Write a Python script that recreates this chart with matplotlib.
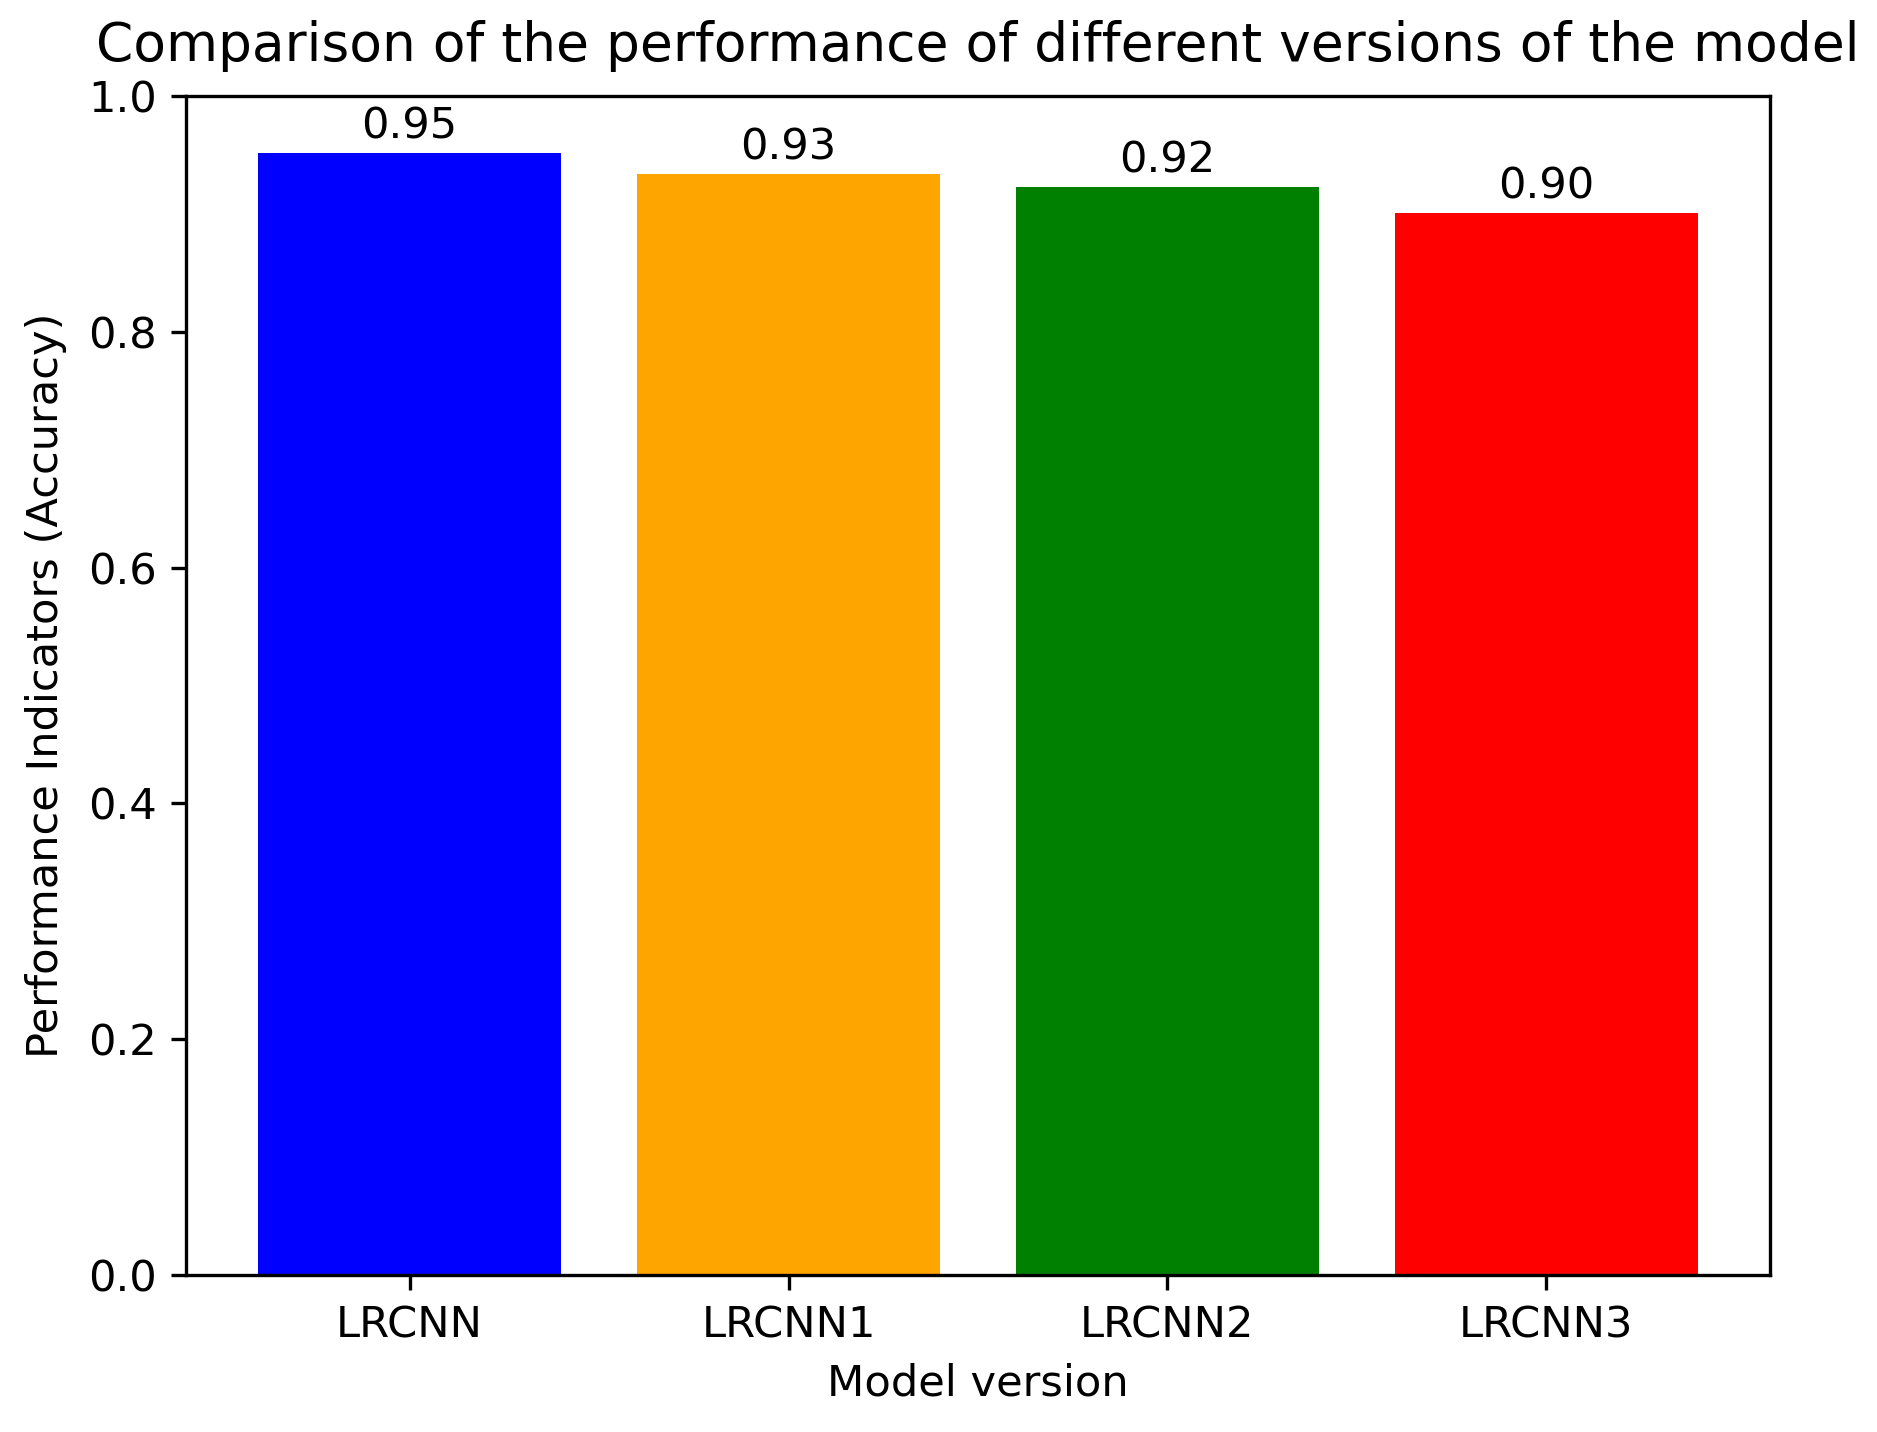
import matplotlib
matplotlib.use("Agg")
import matplotlib.pyplot as plt

# model versions and their accuracy (bar tops)
models = ["LRCNN", "LRCNN1", "LRCNN2", "LRCNN3"]
accuracy = [0.952, 0.934, 0.923, 0.901]
bar_colors = ["blue", "orange", "green", "red"]

fig, ax = plt.subplots(figsize=(1877 / 300, 1432 / 300), dpi=300)
fig.subplots_adjust(left=0.0991, right=0.943, bottom=0.1096, top=0.933)

bars = ax.bar(models, accuracy, color=bar_colors)
ax.bar_label(bars, fmt="%.2f", padding=1.2, fontsize=10.4)

ax.set_ylim(0, 1.0)
ax.tick_params(labelsize=10.4)
ax.set_xlabel("Model version", fontsize=10.4)
ax.set_ylabel("Performance Indicators (Accuracy)", fontsize=10.4, labelpad=5)
ax.set_title("Comparison of the performance of different versions of the model",
             fontsize=12.8, pad=8.5)

fig.savefig("out.png", dpi=300)
